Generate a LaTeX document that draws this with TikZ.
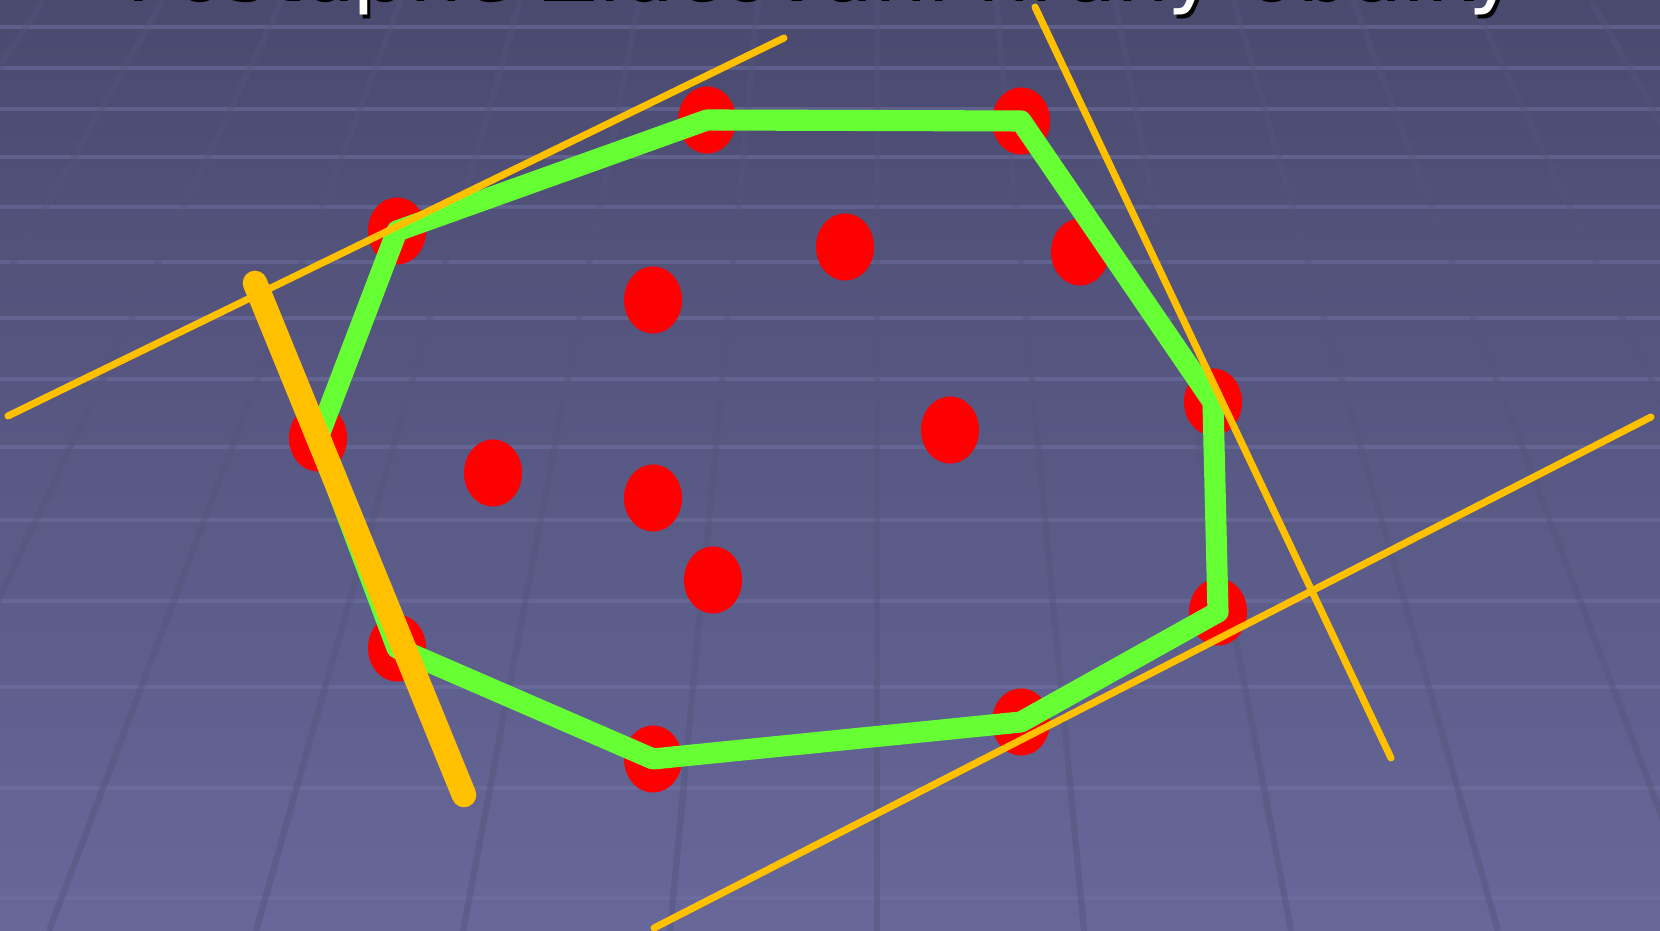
\documentclass[tikz,border=0pt]{standalone}
\usepackage{fontspec}
\usepackage{tikz}
\usetikzlibrary{
	arrows.meta,
	calc
}
\definecolor{BgTop}{RGB}{74,74,111}
\definecolor{BgBottom}{RGB}{103,103,154}
\definecolor{GridLight}{RGB}{112,112,162}
\definecolor{GridDark}{RGB}{84,84,124}
\definecolor{HullGreen}{RGB}{102,255,51}
\definecolor{CaliperGold}{RGB}{255,192,0}
\newfontfamily\titlefont{DejaVu Sans}

\begin{document}
\begin{tikzpicture}[x=0.01cm, y=0.01cm]
		\useasboundingbox (0,0) rectangle (1660,931);
		\clip (0,0) rectangle (1660,931);
		
		% 背景与网格
		\shade[top color=BgTop, bottom color=BgBottom] (0,0) rectangle (1660,931);
		\foreach \y in {904,863,822,774,724,669,613,552,484,411,330,244,143,33}
			\draw[GridLight, opacity=0.55, line width=1pt] (0,\y) -- (1660,\y);
		\foreach \k in {-8,...,8}
			\draw[GridDark, opacity=0.45, line width=1.8pt] ({877+119*\k},931) -- ({877+207*\k},0);
		
		% 标题 (只露出下半部)
		\node[anchor=base west, inner sep=0, text=black] (titleshadow) at (126,929)
			{\titlefont\fontsize{23.9pt}{28pt}\selectfont Postupné Zlučování hrany obálky};
		\node[anchor=base west, inner sep=0, text=white] (title) at (123,933)
			{\titlefont\fontsize{23.9pt}{28pt}\selectfont Postupné Zlučování hrany obálky};
		
		% 点
		\coordinate (P1) at (707,811);
		\coordinate (P2) at (1021,810);
		\coordinate (P3) at (397,700);
		\coordinate (P4) at (1080,679);
		\coordinate (P5) at (845,684);
		\coordinate (P6) at (653,631);
		\coordinate (P7) at (318,493);
		\coordinate (P8) at (1213,529);
		\coordinate (P9) at (950,501);
		\coordinate (P10) at (493,458);
		\coordinate (P11) at (653,433);
		\coordinate (P12) at (713,351);
		\coordinate (P13) at (397,283);
		\coordinate (P14) at (1218,319);
		\coordinate (P15) at (1021,209);
		\coordinate (P16) at (653,172);
		\foreach \i in {1,...,16}
			\fill[red] (P\i) ellipse [x radius=0.29cm, y radius=0.335cm];
		
		% 凸包
		\draw[HullGreen, line width=6pt, line join=round]
			(P1) -- (P2) -- (P8) -- (P14) -- (P15) -- (P16) -- (P13) -- (P7) -- (P3) -- cycle;
		
		% 支撑线
		\coordinate (L1a) at (8,515);
		\coordinate (L1b) at (784,893);
		\coordinate (L2a) at (255,648);
		\coordinate (L2b) at (464,136);
		\coordinate (L3a) at (1035,924);
		\coordinate (L3b) at (1391,173);
		\coordinate (L4a) at (654,3);
		\coordinate (L4b) at (1651,514);
		
		\draw[CaliperGold, line width=2pt, line cap=round] (L1a) -- (L1b);
		\draw[CaliperGold, line width=2pt, line cap=round] (L3a) -- (L3b);
		\draw[CaliperGold, line width=2pt, line cap=round] (L4a) -- (L4b);
		\draw[CaliperGold, line width=7pt, line cap=round] (L2a) -- (L2b);
	\end{tikzpicture}
\end{document}
